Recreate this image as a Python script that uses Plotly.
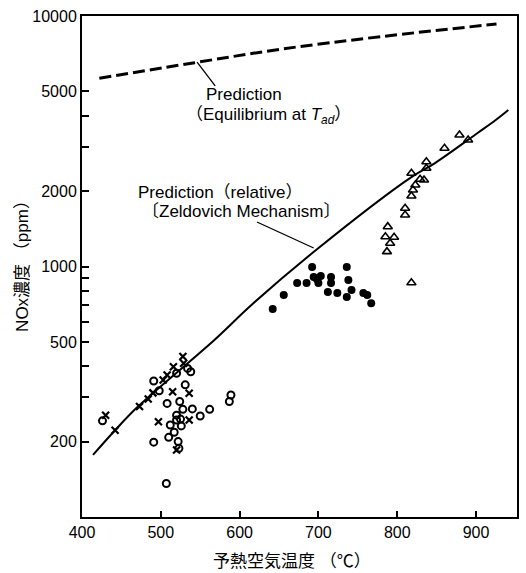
import math
import plotly.graph_objects as go

# ---- data ----
eq_x = [422, 543, 652, 779, 926]
eq_y = [5640, 6510, 7370, 8270, 9290]

zel_x = [414, 442, 471, 568, 615, 697, 818, 848, 902, 925, 941]
zel_y = [177, 222, 276, 509, 702, 1164, 2275, 2588, 3412, 3846, 4217]

circ_x = [426, 491, 498, 508, 491, 510, 517, 512, 520, 525, 526, 520, 522, 523, 507,
          520, 531, 524, 528, 540, 550, 562, 587, 589, 534, 538]
circ_y = [242, 349, 319, 284, 199, 208, 218, 233, 244, 246, 231, 255, 200, 188, 136,
          375, 337, 289, 269, 270, 253, 269, 289, 307, 392, 380]

cross_x = [430, 442, 473, 484, 490, 497, 503, 508, 516, 528, 529, 515, 520, 536, 536]
cross_y = [255, 222, 276, 296, 313, 240, 352, 369, 398, 437, 411, 316, 185, 244, 312]

dot_x = [642, 656, 673, 685, 692, 694, 698, 700, 703, 712, 716, 716, 724, 736, 738,
         736, 742, 757, 762, 767]
dot_y = [677, 770, 859, 859, 995, 908, 891, 859, 916, 791, 908, 859, 784, 995, 883,
         755, 806, 784, 770, 714]

tri_x = [879, 890, 860, 837, 837, 818, 829, 834, 823, 820, 818, 810, 810, 788, 785,
         796, 791, 787, 818]
tri_y = [3350, 3199, 2965, 2620, 2466, 2356, 2230, 2215, 2115, 2020, 1911, 1708, 1606,
         1442, 1315, 1309, 1238, 1146, 861]

x_ticks = [400, 500, 600, 700, 800, 900]
y_ticks = [200, 500, 1000, 2000, 5000, 10000]
y_labels = ["200", "500", "1000", "2000", "5000", "10000"]
y_minor = [300, 400, 600, 700, 800, 900, 3000, 4000]

FONT = "Liberation Sans, Arial, Noto Sans CJK JP, sans-serif"
L = math.log10

fig = go.Figure()
fig.add_trace(go.Scatter(x=eq_x, y=eq_y, mode="lines", line=dict(color="black", width=3, dash="12px,5px"),
                         line_shape="spline"))
fig.add_trace(go.Scatter(x=zel_x, y=zel_y, mode="lines", line=dict(color="black", width=2),
                         line_shape="spline"))
fig.add_trace(go.Scatter(x=circ_x, y=circ_y, mode="markers",
                         marker=dict(symbol="circle-open", size=7, color="black", line=dict(width=2, color="black"))))
fig.add_trace(go.Scatter(x=cross_x, y=cross_y, mode="markers",
                         marker=dict(symbol="x-thin", size=7, color="black", line=dict(width=2.2, color="black"))))
fig.add_trace(go.Scatter(x=dot_x, y=dot_y, mode="markers",
                         marker=dict(symbol="circle", size=8, color="black")))
fig.add_trace(go.Scatter(x=tri_x, y=tri_y, mode="markers",
                         marker=dict(symbol="triangle-up-open", size=8, color="black", line=dict(width=1.6, color="black"))))

# leader lines
fig.add_shape(type="line", xref="x", yref="y", x0=546, y0=6546, x1=569, y1=5256,
              line=dict(color="black", width=1.3))
fig.add_shape(type="line", xref="x", yref="y", x0=694, y0=1185, x1=622, y1=1505,
              line=dict(color="black", width=1.3))

ann_font = dict(family=FONT, size=17, color="black")
fig.add_annotation(x=555, y=L(4838), text="Prediction", showarrow=False, xanchor="left",
                   yanchor="middle", font=ann_font)
fig.add_annotation(x=530, y=L(3989), text="（Equilibrium at <i>T<sub>ad</sub></i>）", showarrow=False,
                   xanchor="left", yanchor="middle", font=ann_font)
fig.add_annotation(x=469, y=L(1983), text="Prediction（relative）", showarrow=False, xanchor="left",
                   yanchor="middle", font=ann_font)
fig.add_annotation(x=473, y=L(1651), text="〔Zeldovich Mechanism〕", showarrow=False, xanchor="left",
                   yanchor="middle", font=ann_font)

fig.add_annotation(xref="paper", yref="paper", x=0.483, y=-0.088, text="予熱空気温度 （℃）",
                   showarrow=False, xanchor="center", yanchor="middle",
                   font=dict(family=FONT, size=17, color="black"))
fig.add_annotation(xref="paper", yref="paper", x=-0.137, y=0.51, text="NOx濃度 （ppm）",
                   showarrow=False, textangle=-90, xanchor="center", yanchor="middle",
                   font=dict(family=FONT, size=17, color="black"))

fig.update_xaxes(range=[400, 952], tickvals=x_ticks, ticks="inside", ticklen=6, tickwidth=1.5,
                 tickcolor="black", showline=True, linecolor="black", linewidth=2, mirror=True,
                 showgrid=False, zeroline=False, tickfont=dict(family=FONT, size=16, color="black"))
fig.update_yaxes(type="log", range=[2, 4], tickvals=y_ticks, ticktext=y_labels, ticks="inside",
                 ticklen=7, tickwidth=1.5, tickcolor="black", showline=True, linecolor="black",
                 linewidth=2, mirror=True, showgrid=False, zeroline=False,
                 minor=dict(tickvals=y_minor, ticks="inside", ticklen=7, tickwidth=1.5,
                            tickcolor="black", showgrid=False),
                 tickfont=dict(family=FONT, size=16, color="black"))

fig.update_layout(width=526, height=573, margin=dict(l=82, r=7, t=16, b=56),
                  plot_bgcolor="white", paper_bgcolor="white", showlegend=False,
                  font=dict(family=FONT, color="black"))
fig.write_html("out.html")
